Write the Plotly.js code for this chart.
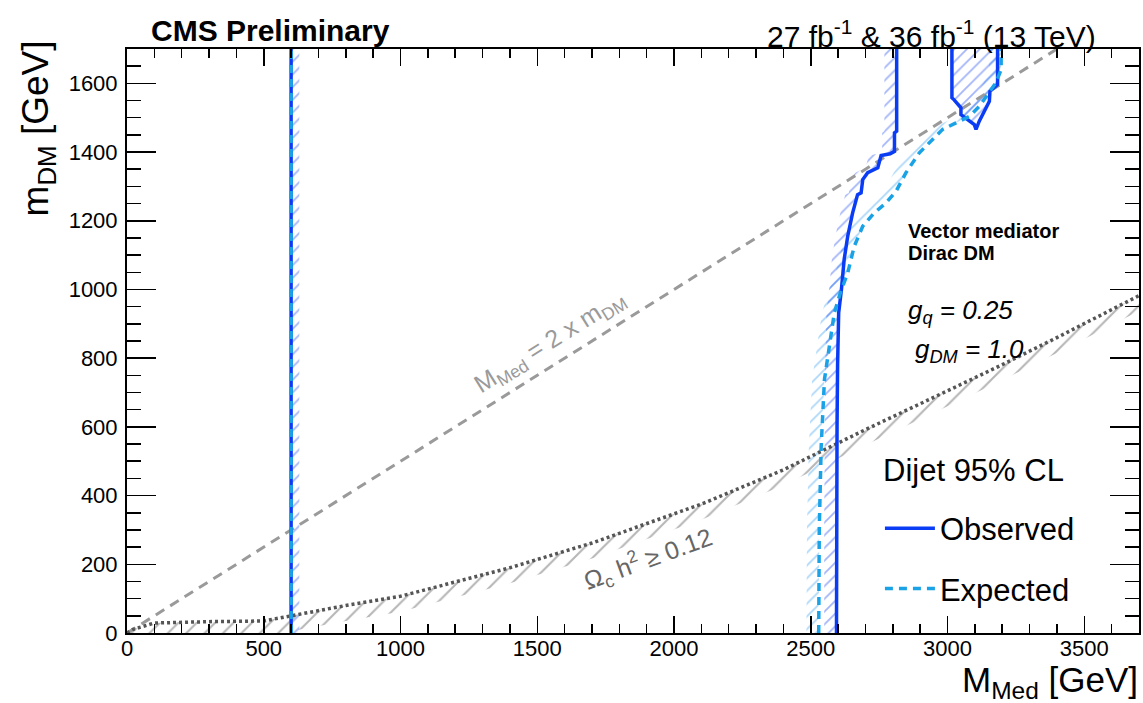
<!DOCTYPE html>
<html><head><meta charset="utf-8">
<script src="https://cdn.plot.ly/plotly-3.0.1.min.js"></script>
<style>html,body{margin:0;padding:0;background:#fff;}#chart{width:1143px;height:703px;}</style>
</head><body><div id="chart"></div>
<script>
// ---------- data (GeV) ----------
// Observed limit: low-mass edge at 600 GeV
const obsLowX = [600, 600];
const obsLowY = [0, 1700];
// Expected limit: low-mass edge at 600 GeV
const expLowX = [600, 600];
const expLowY = [0, 1700];
// Observed limit: high-mass edge
const obsHighX = [2594, 2594, 2596, 2598, 2602, 2612, 2622, 2635, 2653, 2671, 2684, 2690, 2708, 2745, 2757, 2790, 2806, 2806, 2814, 2814];
const obsHighY = [0, 300, 600, 780, 932, 1000, 1087, 1155, 1223, 1276, 1281, 1320, 1340, 1354, 1390, 1395, 1402, 1456, 1461, 1700];
// Observed limit: excluded island near 3.1 TeV
const obsIslandX = [3016, 3016, 3024, 3049, 3049, 3098, 3104, 3116, 3153, 3155, 3183, 3183];
const obsIslandY = [1700, 1558, 1552, 1529, 1509, 1480, 1466, 1490, 1548, 1577, 1597, 1700];
// Expected limit: high-mass edge
const expHighX = [2529, 2531, 2538, 2550, 2568, 2586, 2608, 2635, 2659, 2690, 2732, 2775, 2812, 2848, 2897, 2946, 2982, 3031, 3080, 3116, 3153, 3177, 3196, 3196];
const expHighY = [0, 300, 543, 738, 835, 932, 990, 1048, 1126, 1184, 1223, 1252, 1286, 1340, 1398, 1437, 1466, 1485, 1504, 1533, 1573, 1602, 1640, 1700];
// Relic density curve (Omega_c h^2 = 0.12)
const relicX = [0, 20, 100, 200, 300, 400, 500, 600, 800, 1000, 1100, 1400, 1700, 2100, 2400, 2700, 3000, 3200, 3400, 3700];
const relicY = [0, 10, 29, 32, 33, 34, 35, 50, 80, 107, 128, 190, 262, 375, 475, 592, 705, 781, 860, 982];
// Kinematic line M_Med = 2 x m_DM
const kinX = [0, 3400];
const kinY = [0, 1700];

// ---------- styles ----------
const FONT = 'Liberation Sans, Arial, Helvetica, sans-serif';
const OBS_COLOR = '#0b3cf5';
const EXP_COLOR = '#1aa2e6';
const OBS_HATCH = 'rgba(40,80,240,0.85)';
const EXP_HATCH = 'rgba(60,160,240,0.85)';
const GREY_HATCH = 'rgba(100,100,100,0.95)';

// hatch band built from a curve and its shifted copy
function band(xs, ys, dx, dy) {
  const bx = xs.slice(), by = ys.slice();
  for (let i = xs.length - 1; i >= 0; i--) { bx.push(xs[i] + dx); by.push(ys[i] + dy); }
  return { x: bx, y: by };
}
function hatch(b, color, size, solidity) {
  return {
    type: 'scatter', mode: 'none', x: b.x, y: b.y, fill: 'toself',
    fillcolor: 'rgba(0,0,0,0)',
    fillpattern: { shape: '/', fgcolor: color, bgcolor: 'rgba(0,0,0,0)', size: size, solidity: solidity, fillmode: 'overlay' },
    hoverinfo: 'skip', showlegend: false
  };
}

const traces = [
  hatch(band(relicX, relicY, 0, -45), GREY_HATCH, 13, 0.16),
  hatch(band(expHighX, expHighY, -45, 0), EXP_HATCH, 9, 0.2),
  hatch(band(obsHighX, obsHighY, -45, 0), OBS_HATCH, 9, 0.2),
  hatch({ x: obsIslandX, y: obsIslandY }, OBS_HATCH, 9, 0.2),
  hatch(band(obsLowX, obsLowY, 30, 0), OBS_HATCH, 9, 0.2),
  { type: 'scatter', mode: 'lines', x: kinX, y: kinY, line: { color: '#9a9a9a', width: 3, dash: '10px,7px' }, hoverinfo: 'skip', showlegend: false },
  { type: 'scatter', mode: 'lines', x: relicX, y: relicY, line: { color: '#555555', width: 3.5, dash: '3px,3px' }, hoverinfo: 'skip', showlegend: false },
  { type: 'scatter', mode: 'lines', name: 'Observed', legendgroup: 'obs', x: obsLowX, y: obsLowY, line: { color: OBS_COLOR, width: 3.5 }, showlegend: true },
  { type: 'scatter', mode: 'lines', legendgroup: 'obs', x: obsHighX, y: obsHighY, line: { color: OBS_COLOR, width: 3.5 }, showlegend: false },
  { type: 'scatter', mode: 'lines', legendgroup: 'obs', x: obsIslandX, y: obsIslandY, line: { color: OBS_COLOR, width: 3.5 }, showlegend: false },
  { type: 'scatter', mode: 'lines', name: 'Expected', legendgroup: 'exp', x: expLowX, y: expLowY, line: { color: EXP_COLOR, width: 3.5, dash: '8px,6px' }, showlegend: true },
  { type: 'scatter', mode: 'lines', legendgroup: 'exp', x: expHighX, y: expHighY, line: { color: EXP_COLOR, width: 3.5, dash: '8px,6px' }, showlegend: false }
];

const axisCommon = {
  ticks: 'inside', tickcolor: 'black', tickwidth: 1.5,
  showline: true, linecolor: 'black', linewidth: 2, mirror: 'ticks',
  showgrid: false, zeroline: false, tickfont: { size: 22, family: FONT, color: 'black' }
};

const layout = {
  width: 1143, height: 703,
  margin: { l: 127, r: 4, t: 49, b: 70, pad: 0 },
  paper_bgcolor: 'white', plot_bgcolor: 'white',
  font: { family: FONT, color: 'black' },
  showlegend: true,
  xaxis: Object.assign({}, axisCommon, {
    range: [0, 3700], tick0: 0, dtick: 500, ticklen: 17, ticklabelstandoff: -5,
    minor: { dtick: 100, ticks: 'inside', ticklen: 9, tickwidth: 1.5, tickcolor: 'black', showgrid: false }
  }),
  yaxis: Object.assign({}, axisCommon, {
    range: [0, 1700], tick0: 0, dtick: 200, ticklen: 29, ticklabelstandoff: 3,
    minor: { dtick: 50, ticks: 'inside', ticklen: 14, tickwidth: 1.5, tickcolor: 'black', showgrid: false }
  }),
  legend: {
    x: 0.744, y: 0.225, xanchor: 'left', yanchor: 'top',
    bgcolor: 'rgba(0,0,0,0)', borderwidth: 0,
    font: { size: 31, family: FONT, color: 'black' },
    itemwidth: 50, traceorder: 'grouped', tracegroupgap: 17
  },
  annotations: [
    { xref: 'paper', yref: 'paper', x: 0.0213, y: 1.0317, xanchor: 'left', yanchor: 'middle', showarrow: false,
      text: '<b>CMS Preliminary</b>', font: { size: 30, family: FONT, color: 'black' } },
    { xref: 'paper', yref: 'paper', x: 0.9595, y: 1.026, xanchor: 'right', yanchor: 'middle', showarrow: false,
      text: '27 fb<sup>-1</sup> &amp; 36 fb<sup>-1</sup> (13 TeV)', font: { size: 30, family: FONT, color: 'black' } },
    { xref: 'paper', yref: 'paper', x: 1.001, y: -0.084, xanchor: 'right', yanchor: 'middle', showarrow: false,
      text: 'M<sub>Med</sub> [GeV]', font: { size: 35, family: FONT, color: 'black' } },
    { xref: 'paper', yref: 'paper', x: -0.087, y: 1.018, xanchor: 'center', yanchor: 'top', textangle: -90, showarrow: false,
      text: 'm<sub>DM</sub> [GeV]', font: { size: 37, family: FONT, color: 'black' } },
    { xref: 'paper', yref: 'paper', x: 0.7446, y: 0.278, xanchor: 'left', yanchor: 'middle', showarrow: false,
      text: 'Dijet 95% CL', font: { size: 31, family: FONT, color: 'black' } },
    { xref: 'x', yref: 'y', x: 2848, y: 1169, xanchor: 'left', yanchor: 'middle', showarrow: false,
      text: '<b>Vector mediator</b>', font: { size: 20, family: FONT, color: 'black' } },
    { xref: 'x', yref: 'y', x: 2848, y: 1105, xanchor: 'left', yanchor: 'middle', showarrow: false,
      text: '<b>Dirac DM</b>', font: { size: 20, family: FONT, color: 'black' } },
    { xref: 'x', yref: 'y', x: 2848, y: 935, xanchor: 'left', yanchor: 'middle', showarrow: false,
      text: '<i>g<sub>q</sub> = 0.25</i>', font: { size: 26, family: FONT, color: 'black' } },
    { xref: 'x', yref: 'y', x: 2873, y: 822, xanchor: 'left', yanchor: 'middle', showarrow: false,
      text: '<i>g<sub>DM</sub> = 1.0</i>', font: { size: 26, family: FONT, color: 'black' } },
    { xref: 'x', yref: 'y', x: 1548, y: 848, xanchor: 'center', yanchor: 'middle', textangle: -32, showarrow: false,
      text: 'M<sub>Med</sub> = 2 x m<sub>DM</sub>', font: { size: 25, family: FONT, color: '#9a9a9a' } },
    { xref: 'x', yref: 'y', x: 1906, y: 214, xanchor: 'center', yanchor: 'middle', textangle: -20, showarrow: false,
      text: 'Ω<sub>c</sub> h<sup>2</sup> ≥ 0.12', font: { size: 25, family: FONT, color: '#666666' } }
  ]
};

Plotly.newPlot('chart', traces, layout, { displayModeBar: false, staticPlot: true });
</script>
</body></html>
